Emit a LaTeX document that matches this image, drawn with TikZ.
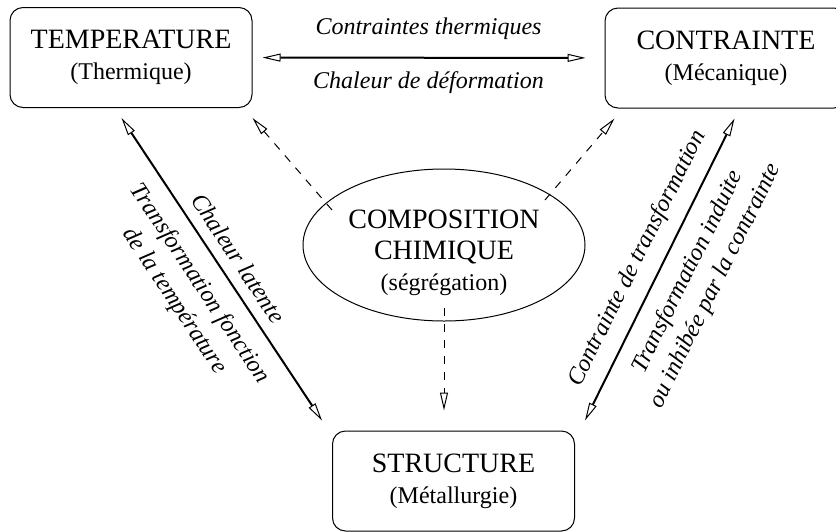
\documentclass[tikz,border=0pt]{standalone}
\usepackage{fontspec}
\setmainfont{Liberation Serif}
\usetikzlibrary{arrows.meta,shapes.geometric,calc}

\newcommand{\gros}{\fontsize{14}{15.5}\selectfont}
\newcommand{\moyen}{\fontsize{12}{15.5}\selectfont}

\tikzset{
  boite/.style={draw, line width=0.5pt, rounded corners=6.5pt, minimum width=121pt, minimum height=50pt, align=center, font=\gros},
  bulle/.style={draw, line width=0.5pt, ellipse, minimum width=141pt, minimum height=76pt, inner sep=0pt, align=center, font=\gros},
  pointe/.tip={Triangle[open, length=9pt, width=4pt, line width=0.5pt]},
  fleche/.style={line width=1pt, pointe-pointe},
  tiret/.style={line width=0.5pt, dash pattern=on 4pt off 4pt, -pointe},
  legende/.style={font=\fontsize{12}{15.3}\selectfont\itshape, align=center}
}

\begin{document}
\begin{tikzpicture}[x=0.5pt, y=-0.5pt]
    \useasboundingbox (0,0) rectangle (836,531);
    \node[boite] at (131,57.5) (temp) {TEMPERATURE\\{\moyen (Thermique)}};
    \node[boite] at (726,58) (contr) {CONTRAINTE\\{\moyen (Mécanique)}};
    \node[boite] at (453.5,481) (struct) {STRUCTURE\\{\moyen (Métallurgie)}};
    \node[bulle, text height=48.3pt] at (444,245) (comp) {COMPOSITION\\CHIMIQUE\\{\moyen (ségrégation)}};
    % fleches pleines
    \path [fleche] (temp) edge[shorten <=5pt, shorten >=9.5pt] node[legende, above=5pt] {Contraintes thermiques} node[legende, below=3pt] {Chaleur de déformation} (contr);
    \path [fleche] ($(temp.south west)+(112,10)$) edge node[legende, sloped, above=2pt] {Chaleur latente} node[legende, sloped, below=4pt] {Transformation fonction\\de la température} ($(struct.north west)+(-10,-10)$);
    \path [fleche] ($(struct.north east)+(10,-10)$) edge node[legende, sloped, above=3pt] {Contrainte de transformation} node[legende, sloped, below=4pt, pos=0.53] {Transformation induite\\ou inhibée par la contrainte} ($(contr.south west)+(130,10)$);
    % fleches en tirets
    \draw [tiret] ($(comp.center)+(-112,-35)$) -- ($(temp.south east)+(0,10)$);
    \draw [tiret] ($(comp.center)+(101,-45)$) -- ($(contr.south west)+(10,10)$);
    \draw [tiret] ($(comp.center)+(0,63)$) -- ($(comp.center |- struct.north)+(0,-20)$);
\end{tikzpicture}
\end{document}
